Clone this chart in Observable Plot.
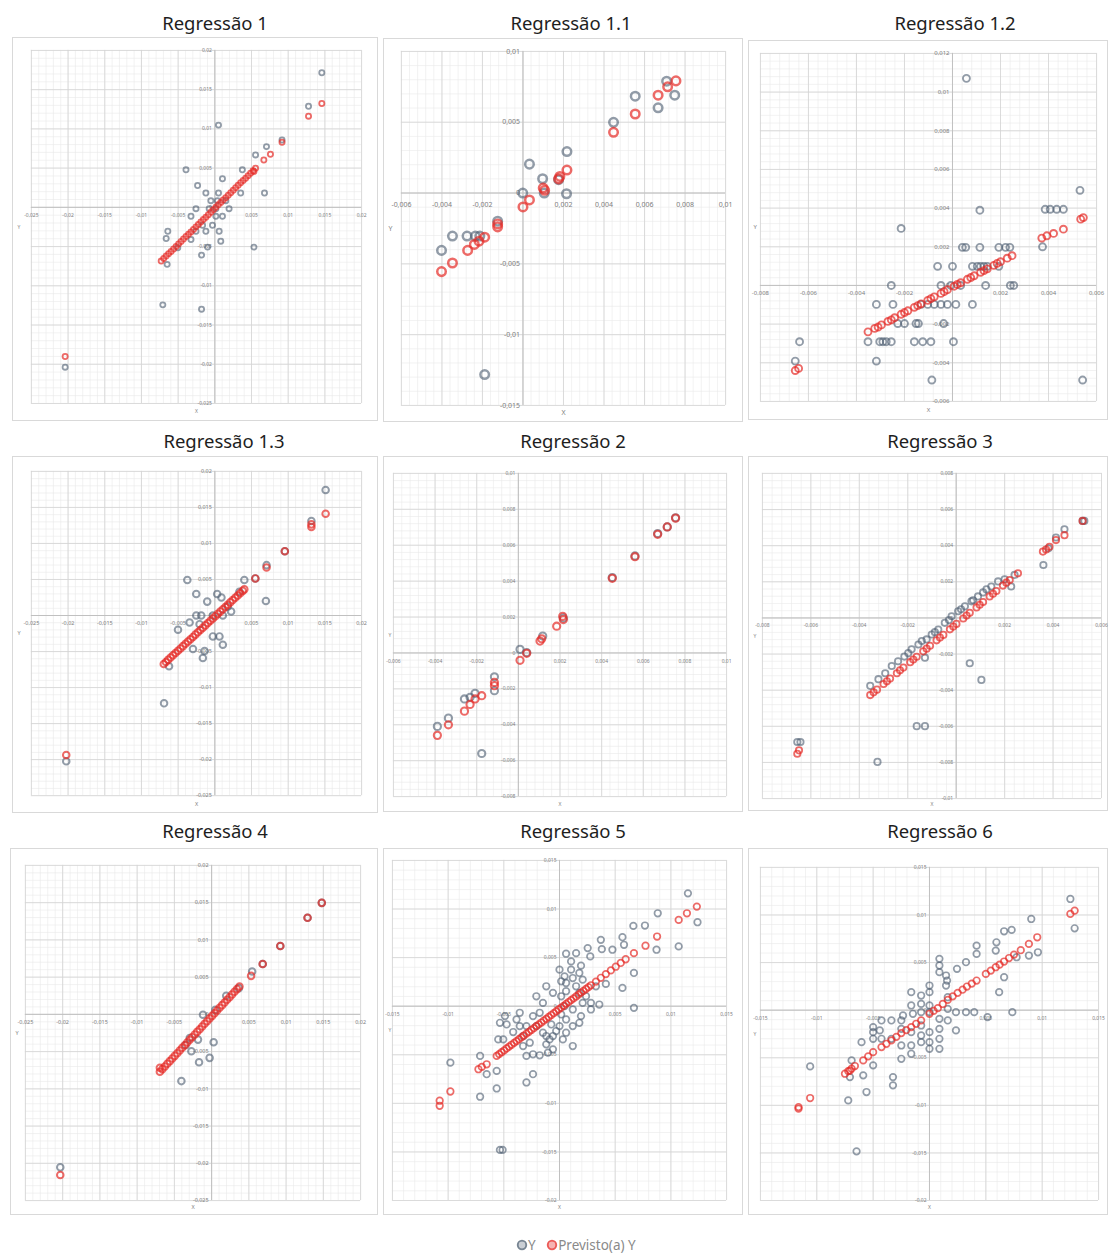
<!DOCTYPE html>
<html><head><meta charset="utf-8">
<script src="https://cdn.jsdelivr.net/npm/d3@7"></script>
<script src="https://cdn.jsdelivr.net/npm/@observablehq/plot@0.6"></script>
<style>
body{margin:0;background:#fff;font-family:"Noto Sans",sans-serif}
#root{position:relative;width:1110px;height:1256px;overflow:hidden}
.box{position:absolute;border:1px solid #d9d9d9;box-sizing:border-box;background:#fff}
.box svg{position:absolute;left:-1px;top:-1px;overflow:visible}
.title{position:absolute;transform:translate(-50%,-50%);font-size:18.5px;color:#1e1e1e;white-space:nowrap}
#legend{position:absolute;left:516px;top:1236px;font-size:13.5px;color:#8a8a8a;white-space:nowrap}
</style></head><body><div id="root"></div>
<script>
// ---------------- DATA ----------------
const titles = ["Regressão 1","Regressão 1.1","Regressão 1.2","Regressão 1.3","Regressão 2","Regressão 3","Regressão 4","Regressão 5","Regressão 6"];
const seriesNames = ["Y","Previsto(a) Y"];

const p1_xticks = [-0.025,-0.02,-0.015,-0.01,-0.005,0,0.005,0.01,0.015,0.02];
const p1_yticks = [-0.025,-0.02,-0.015,-0.01,-0.005,0,0.005,0.01,0.015,0.02];
const p1_obs = [[0.01458,0.01716],[0.01277,0.01289],[0.0005,0.01048],[0.00916,0.00858],[0.00704,0.00774],[0.00555,0.00668],[0.00375,0.00478],[-0.00393,0.00478],[-0.00235,0.00279],[0.00104,0.00364],[-0.00122,0.00182],[0.0005,0.00182],[0.00352,0.00182],[0.00677,0.00182],[-0.00054,0.00085],[0.00036,0.00085],[0.00149,0.00085],[-0.00257,-0.00017],[-0.00077,-0.00017],[0.00014,-0.00017],[0.00194,-0.00017],[-0.00325,-0.00114],[0.00014,-0.00114],[0.00104,-0.00114],[-0.00167,-0.00228],[-0.00032,-0.00228],[-0.00257,-0.00304],[-0.00122,-0.00304],[0.00059,-0.00304],[-0.00641,-0.00304],[-0.00663,-0.00397],[-0.00325,-0.0041],[0.00081,-0.00431],[-0.00099,-0.00507],[0.00533,-0.00507],[-0.00505,-0.00516],[-0.00181,-0.00609],[-0.0065,-0.00727],[-0.00709,-0.01243],[-0.00181,-0.01298],[-0.0204,-0.02037]];
const p1_pred = [[-0.00731,-0.00685],[-0.00697,-0.00653],[-0.00663,-0.00621],[-0.0063,-0.0059],[-0.00596,-0.00562],[-0.00562,-0.0053],[-0.00528,-0.00499],[-0.00494,-0.00467],[-0.0046,-0.00435],[-0.00427,-0.00404],[-0.00393,-0.00372],[-0.00359,-0.00342],[-0.00325,-0.00313],[-0.00291,-0.00281],[-0.00257,-0.00249],[-0.00224,-0.00218],[-0.0019,-0.00186],[-0.00156,-0.00156],[-0.00122,-0.00127],[-0.00088,-0.00095],[-0.00054,-0.00063],[-0.0002,-0.00032],[0.00014,0],[0.00048,0.00032],[0.00081,0.00063],[0.00115,0.00093],[0.00149,0.00123],[0.00183,0.00155],[0.00217,0.00186],[0.00251,0.00218],[0.00284,0.00249],[0.00318,0.00281],[0.00352,0.00313],[0.00386,0.00343],[0.0042,0.00372],[0.00454,0.00404],[0.00487,0.00435],[0.00521,0.00467],[0.00555,0.00499],[0.00533,0.00457],[0.00668,0.00604],[0.00758,0.00676],[0.00916,0.00829],[0.01277,0.01162],[0.01458,0.01323],[-0.0204,-0.01902]];

const p2_xticks = [-0.006,-0.004,-0.002,0,0.002,0.004,0.006,0.008,0.01];
const p2_yticks = [-0.015,-0.01,-0.005,0,0.005,0.01];
const p2_obs = [[0.00709,0.0079],[0.00749,0.00691],[0.00554,0.00684],[0.00667,0.00602],[0.00447,0.00499],[0.00217,0.00293],[0.00032,0.00204],[0.00097,0.00101],[0.00176,0.00094],[0.00105,0],[0.00215,-0.00005],[-0.00001,0],[-0.00125,-0.00199],[-0.00348,-0.00304],[-0.00276,-0.00304],[-0.00235,-0.00304],[-0.00213,-0.00304],[-0.00402,-0.00405],[-0.00189,-0.01282]];
const p2_pred = [[0.00755,0.00792],[0.00714,0.0075],[0.00667,0.00691],[0.00554,0.00558],[0.00447,0.00429],[0.00217,0.00162],[0.00182,0.00117],[0.00176,0.001],[0.001,0.00035],[0.00107,0.00019],[0.00032,-0.00049],[0,-0.00098],[-0.00125,-0.00218],[-0.00125,-0.00239],[-0.00189,-0.00312],[-0.00217,-0.0034],[-0.0024,-0.00363],[-0.00273,-0.00405],[-0.00348,-0.00494],[-0.00402,-0.00555]];

const p3_xticks = [-0.008,-0.006,-0.004,-0.002,0,0.002,0.004,0.006];
const p3_yticks = [-0.006,-0.004,-0.002,0,0.002,0.004,0.006,0.008,0.01,0.012];
const p3_obs = [[0.00058,0.01071],[0.00531,0.00492],[0.00114,0.00389],[0.00386,0.00394],[0.00407,0.00394],[0.00434,0.00394],[0.00462,0.00394],[-0.00214,0.00295],[0.00375,0.002],[0.00041,0.00197],[0.00055,0.00197],[0.00114,0.00197],[0.00193,0.00197],[0.00221,0.00197],[0.00239,0.00197],[-0.00062,0.00099],[0,0.00099],[0.00083,0.00099],[0.00103,0.00099],[0.00117,0.00099],[0.00131,0.00099],[0.00145,0.00099],[0.00193,0.00099],[-0.00255,0],[-0.00048,0],[-0.00007,0],[0.00034,0],[0.00138,0],[0.00241,0],[0.00255,0],[-0.00317,-0.00098],[-0.00248,-0.00098],[-0.00131,-0.00098],[-0.00103,-0.00098],[-0.00076,-0.00098],[-0.00048,-0.00098],[-0.00021,-0.00098],[0.00014,-0.00098],[0.00083,-0.00098],[-0.00228,-0.00197],[-0.002,-0.00197],[-0.00152,-0.00197],[-0.00142,-0.00197],[-0.00037,-0.00197],[-0.00637,-0.00291],[-0.00352,-0.00291],[-0.00303,-0.00291],[-0.0029,-0.00291],[-0.00276,-0.00291],[-0.00255,-0.00291],[-0.00159,-0.00291],[-0.00124,-0.00291],[-0.0009,-0.00291],[0.00004,-0.00291],[-0.00655,-0.00391],[-0.00317,-0.00391],[-0.00086,-0.00489],[0.00542,-0.00489]];
const p3_pred = [[-0.00352,-0.0024],[-0.00324,-0.00222],[-0.00296,-0.00204],[-0.00269,-0.00186],[-0.00241,-0.00167],[-0.00214,-0.00149],[-0.00186,-0.00131],[-0.00159,-0.00113],[-0.00131,-0.00095],[-0.00103,-0.00077],[-0.00076,-0.00059],[-0.00048,-0.00041],[-0.00021,-0.00022],[0.00007,-0.00004],[0.00034,0.00014],[0.00062,0.00032],[0.0009,0.0005],[0.00117,0.00068],[0.00145,0.00086],[0.00172,0.00104],[0.002,0.00123],[0.00228,0.00141],[0.00248,0.00154],[-0.0031,-0.00215],[-0.00255,-0.00178],[-0.002,-0.0014],[-0.00145,-0.00104],[-0.0009,-0.00068],[-0.00035,-0.00032],[0.0002,0.00005],[0.00076,0.00041],[0.00131,0.00077],[0.00186,0.00114],[0.00372,0.00245],[0.00393,0.00257],[0.00421,0.00269],[0.00462,0.00291],[0.00534,0.00343],[0.00545,0.00351],[-0.00655,-0.0044],[-0.00641,-0.00429]];

const p4_xticks = [-0.025,-0.02,-0.015,-0.01,-0.005,0,0.005,0.01,0.015,0.02];
const p4_yticks = [-0.025,-0.02,-0.015,-0.01,-0.005,0,0.005,0.01,0.015,0.02];
const p4_obs = [[0.0151,0.01743],[0.01316,0.01311],[0.00954,0.00892],[0.00705,0.00699],[0.00552,0.00515],[0.00402,0.00492],[-0.00375,0.00492],[-0.00253,0.00299],[0.00032,0.00299],[-0.00104,0.00193],[0.00696,0.00202],[-0.00253,0],[-0.00185,0],[-0.00027,0],[0.00109,0],[-0.00344,-0.00097],[-0.00502,-0.00198],[-0.00027,-0.0029],[0.00063,-0.0029],[0.00109,-0.00405],[-0.00298,-0.00465],[-0.0014,-0.00492],[-0.00163,-0.00589],[-0.00624,-0.00704],[-0.00692,-0.01219],[-0.02025,-0.02024],[0.00176,0.00124],[0.00222,0.00055],[0.00335,0.00331],[-0.00208,-0.0012],[0.0009,0.0025]];
const p4_pred = [[-0.00696,-0.00672],[-0.00666,-0.00645],[-0.00637,-0.00616],[-0.00603,-0.00584],[-0.0057,-0.00552],[-0.00536,-0.0052],[-0.00502,-0.00489],[-0.00468,-0.00457],[-0.00434,-0.00425],[-0.004,-0.00393],[-0.00366,-0.00361],[-0.00332,-0.00329],[-0.00298,-0.00297],[-0.00265,-0.00265],[-0.00231,-0.00233],[-0.00197,-0.00201],[-0.00163,-0.00169],[-0.00129,-0.00137],[-0.00095,-0.00105],[-0.00061,-0.00073],[-0.00027,-0.00041],[0.00007,-0.00009],[0.00041,0.00023],[0.00075,0.00054],[0.00109,0.00086],[0.00143,0.00118],[0.00176,0.0015],[0.0021,0.00182],[0.00244,0.00214],[0.00278,0.00246],[0.00312,0.00278],[0.00346,0.0031],[0.0038,0.00342],[0.00402,0.00363],[0.00552,0.00515],[0.00705,0.00667],[0.00954,0.00892],[0.01316,0.01265],[0.01316,0.01228],[0.0151,0.01412],[-0.02025,-0.01937]];

const p5_xticks = [-0.006,-0.004,-0.002,0,0.002,0.004,0.006,0.008,0.01];
const p5_yticks = [-0.008,-0.006,-0.004,-0.002,0,0.002,0.004,0.006,0.008,0.01];
const p5_obs = [[0.00755,0.00753],[0.00715,0.00702],[0.00669,0.00665],[0.0056,0.0054],[0.00451,0.0042],[0.00216,0.00195],[0.00117,0.00094],[0.0004,0.00002],[0.00008,0.0002],[-0.00115,-0.00133],[-0.00115,-0.0021],[-0.00208,-0.00225],[-0.00259,-0.00256],[-0.00336,-0.00363],[-0.00389,-0.00409],[-0.00176,-0.0056],[-0.00232,-0.00247]];
const p5_pred = [[0.00755,0.00751],[0.00715,0.00702],[0.00669,0.00661],[0.0056,0.00536],[0.00451,0.00416],[0.00216,0.00186],[0.00213,0.00204],[0.00184,0.00149],[0.00112,0.00079],[0.00104,0.00066],[0.0004,-0.00002],[0.00008,-0.00041],[-0.00115,-0.00164],[-0.00115,-0.00182],[-0.00176,-0.00238],[-0.00208,-0.00256],[-0.00232,-0.00287],[-0.00259,-0.00324],[-0.00336,-0.004],[-0.00389,-0.00459]];

const p6_xticks = [-0.008,-0.006,-0.004,-0.002,0,0.002,0.004,0.006];
const p6_yticks = [-0.01,-0.008,-0.006,-0.004,-0.002,0,0.002,0.004,0.006,0.008];
const p6_obs = [[-0.00355,-0.00376],[-0.00321,-0.00339],[-0.00293,-0.00306],[-0.00266,-0.00266],[-0.00214,-0.00214],[-0.00184,-0.00174],[-0.00156,-0.00147],[-0.00122,-0.00119],[-0.00101,-0.00092],[-0.00074,-0.00064],[-0.00047,-0.00027],[-0.00019,0.00009],[0.00008,0.00037],[0.00036,0.00064],[0.00063,0.00092],[0.0009,0.00119],[0.00111,0.00141],[0.00145,0.00174],[0.00173,0.00202],[0.002,0.00214],[0.00227,0.00174],[0.00241,0.00238],[-0.0024,-0.0024],[-0.00198,-0.00195],[-0.00142,-0.00128],[-0.00088,-0.00079],[-0.0003,-0.00012],[0.0002,0.00048],[0.0007,0.00098],[0.00125,0.00158],[-0.00129,-0.0022],[0.00056,-0.00251],[0.00104,-0.00343],[-0.00163,-0.00599],[-0.00129,-0.00599],[-0.00656,-0.00687],[-0.00643,-0.00687],[-0.00325,-0.00797],[0.0036,0.00293],[0.00381,0.00385],[0.00412,0.00445],[0.00447,0.00491],[0.00522,0.00537],[0.00529,0.00537]];
const p6_pred = [[-0.00355,-0.00427],[-0.00327,-0.00397],[-0.003,-0.00366],[-0.00273,-0.00336],[-0.00245,-0.00306],[-0.00218,-0.00275],[-0.0019,-0.00245],[-0.00163,-0.00215],[-0.00136,-0.00185],[-0.00108,-0.00154],[-0.00081,-0.00124],[-0.00053,-0.00094],[-0.00026,-0.00063],[0.00001,-0.00033],[0.00029,-0.00003],[0.00056,0.00028],[0.00084,0.00058],[0.00111,0.00088],[0.00138,0.00119],[0.00166,0.00149],[0.00193,0.00179],[0.00221,0.0021],[0.00255,0.00247],[-0.00341,-0.00412],[-0.00286,-0.00351],[-0.00232,-0.0029],[-0.00177,-0.0023],[-0.00122,-0.0017],[-0.00067,-0.00109],[-0.00012,-0.00048],[0.00043,0.00013],[0.00097,0.00073],[0.00152,0.00134],[0.00207,0.00195],[0.00358,0.00367],[0.00371,0.00379],[0.00385,0.00394],[0.00412,0.00431],[0.00447,0.00458],[0.00522,0.00537],[-0.00656,-0.00752],[-0.00649,-0.00733]];

const p7_xticks = [-0.025,-0.02,-0.015,-0.01,-0.005,0,0.005,0.01,0.015,0.02];
const p7_yticks = [-0.025,-0.02,-0.015,-0.01,-0.005,0,0.005,0.01,0.015,0.02];
const p7_obs = [[0.01479,0.01497],[0.01288,0.01297],[0.00922,0.00918],[0.00686,0.00677],[0.00544,0.00575],[0.00365,0.00352],[0.00196,0.0025],[-0.00116,-0.00004],[0.00027,-0.00374],[-0.00272,-0.00495],[-0.00027,-0.00584],[-0.00169,-0.00642],[-0.00406,-0.00896],[-0.00294,-0.00316],[-0.00183,-0.00339],[-0.02032,-0.02054],[0.0005,0.0006],[-0.0035,-0.0041]];
const p7_pred = [[-0.00695,-0.00771],[-0.00661,-0.00735],[-0.00628,-0.00699],[-0.00595,-0.00664],[-0.00561,-0.00628],[-0.00528,-0.00592],[-0.00495,-0.00557],[-0.00461,-0.00521],[-0.00428,-0.00485],[-0.00395,-0.00449],[-0.00361,-0.00414],[-0.00328,-0.00378],[-0.00294,-0.00342],[-0.00261,-0.00306],[-0.00227,-0.0027],[-0.00194,-0.00235],[-0.0016,-0.00199],[-0.00127,-0.00163],[-0.00094,-0.00127],[-0.0006,-0.00092],[-0.00027,-0.00056],[0.00007,-0.0002],[0.0004,0.00016],[0.00074,0.00052],[0.00107,0.00088],[0.00141,0.00124],[0.00174,0.0016],[0.00207,0.00196],[0.00241,0.00231],[0.00274,0.00267],[0.00307,0.00303],[0.00341,0.00339],[0.00374,0.00374],[0.0053,0.00517],[0.00686,0.00677],[0.00922,0.00918],[0.01288,0.01297],[0.01479,0.01497],[-0.02032,-0.02157],[-0.00695,-0.00717]];

const p8_xticks = [-0.015,-0.01,-0.005,0,0.005,0.01,0.015];
const p8_yticks = [-0.02,-0.015,-0.01,-0.005,0,0.005,0.01,0.015];
const p8_obs = [[0.01153,0.01161],[0.01239,0.00864],[0.0107,0.00615],[0.00882,0.00956],[0.00871,0.00581],[0.00767,0.0083],[0.00663,0.00826],[0.00565,0.0071],[0.00579,0.00632],[0.00475,0.00581],[0.00371,0.00683],[0.0038,0.00587],[0.00253,0.00598],[0.00276,0.00512],[0.00149,0.00546],[0.00059,0.0054],[0.00104,0.00461],[0.00193,0.00417],[0.00104,0.00376],[0.00015,0.00256],[0.00059,0.00239],[0.00119,0.0029],[0.00178,0.00342],[0.00208,0.00273],[0.00327,0.00205],[0.00416,0.00229],[0.00565,0.00188],[0.00668,0.00342],[0.00668,-0.00017],[0.00357,0.00017],[0.00282,0.00034],[0.00282,-0.00034],[0.00208,0.00034],[0.00193,-0.00102],[0.00178,-0.00171],[0.00119,-0.00205],[0.00059,-0.00137],[0.00015,-0.00085],[0,-0.00205],[-0.0003,-0.00256],[-0.00059,-0.00307],[-0.00089,-0.00342],[-0.00119,-0.00393],[-0.00059,-0.00444],[-0.00104,-0.00478],[-0.00178,-0.00505],[-0.00238,-0.00495],[-0.00297,-0.00512],[-0.00267,-0.00376],[-0.00327,-0.00307],[-0.00357,-0.00205],[-0.00386,-0.00137],[-0.00475,-0.00188],[-0.00416,-0.00266],[-0.00505,-0.00342],[-0.0055,-0.00342],[-0.00535,-0.00171],[-0.0049,-0.00102],[-0.00297,-0.00205],[-0.00208,0.00102],[-0.00149,0.00034],[-0.00119,0.00205],[-0.00059,0.00137],[0.00015,0.00102],[0.00045,0],[0.00119,-0.00034],[0.00119,-0.0041],[0.0003,-0.00342],[0.00059,-0.00273],[-0.00327,-0.0041],[-0.00564,-0.00666],[-0.00654,-0.007],[-0.00713,-0.00512],[-0.0098,-0.00581],[-0.00713,-0.00932],[-0.00564,-0.00847],[-0.00297,-0.00785],[-0.00238,-0.007],[0.00178,0.00137],[0.00238,0.00102],[-0.00535,-0.01479],[-0.00511,-0.01479],[-0.00178,-0.00068],[-0.00238,-0.00102],[-0.00208,-0.00205],[-0.00149,-0.00273],[-0.00357,-0.00068],[0.00149,0.00205],[0.00059,0.00154],[0,0.00376],[0.00045,0.00307],[-0.00074,-0.00188],[-0.00119,-0.00307]];
const p8_pred = [[-0.00564,-0.00512],[-0.00542,-0.00493],[-0.0052,-0.00474],[-0.00497,-0.00455],[-0.00475,-0.00435],[-0.00453,-0.00416],[-0.00431,-0.00397],[-0.00408,-0.00378],[-0.00386,-0.00359],[-0.00364,-0.0034],[-0.00342,-0.00321],[-0.0032,-0.00302],[-0.00297,-0.00283],[-0.00275,-0.00264],[-0.00253,-0.00245],[-0.0023,-0.00226],[-0.00208,-0.00206],[-0.00186,-0.00187],[-0.00163,-0.00168],[-0.00141,-0.00149],[-0.00119,-0.0013],[-0.00097,-0.00111],[-0.00074,-0.00091],[-0.00052,-0.00072],[-0.0003,-0.00053],[-0.00008,-0.00034],[0.00015,-0.00015],[0.00037,0.00004],[0.00059,0.00024],[0.00082,0.00043],[0.00104,0.00062],[0.00126,0.00081],[0.00149,0.001],[0.00171,0.00119],[0.00193,0.00139],[0.00215,0.00158],[0.00238,0.00177],[0.0026,0.00196],[0.00282,0.00215],[0.00327,0.00253],[0.00371,0.00292],[0.00416,0.0033],[0.00461,0.00368],[0.00505,0.00406],[0.0055,0.00445],[0.00594,0.00483],[0.00668,0.00546],[0.00772,0.00622],[0.00876,0.00717],[0.0107,0.00888],[0.01144,0.00956],[0.01233,0.01025],[-0.0098,-0.00878],[-0.01076,-0.00973],[-0.01076,-0.01025],[-0.00728,-0.00649],[-0.00698,-0.00625],[-0.00654,-0.00598]];

const p9_xticks = [-0.015,-0.01,-0.005,0,0.005,0.01,0.015];
const p9_yticks = [-0.02,-0.015,-0.01,-0.005,0,0.005,0.01,0.015];
const p9_obs = [[0.0125,0.01168],[0.01288,0.0086],[0.00903,0.00958],[0.00962,0.00608],[0.00882,0.00574],[0.00729,0.00843],[0.00662,0.00829],[0.00594,0.00713],[0.00588,0.00626],[0.00418,0.00678],[0.00418,0.00591],[0.00324,0.00504],[0.00244,0.00434],[0.00088,0.00539],[0.00088,0.00469],[0.00147,0.00364],[0.00156,0.00311],[0.00147,0.00259],[0,0.00259],[0,0.00189],[-0.00162,0.00189],[-0.00074,0.00154],[0,0.00049],[0,-0.00021],[-0.00074,-0.00021],[-0.00147,-0.00038],[-0.00235,-0.00056],[-0.0025,-0.00108],[-0.00338,-0.00108],[-0.00426,-0.00108],[-0.005,-0.00178],[-0.005,-0.00231],[-0.005,-0.00301],[-0.00426,-0.00301],[-0.00338,-0.00301],[-0.0025,-0.00371],[-0.0025,-0.00511],[-0.00162,-0.00371],[-0.00162,-0.00458],[-0.00074,-0.00161],[-0.00074,-0.00266],[-0.00074,-0.00336],[0,-0.00231],[0,-0.00336],[0,-0.00406],[0.00088,-0.00091],[0.00088,-0.00196],[0.00088,-0.00301],[0.00088,-0.00406],[0.00162,0.00014],[0.00162,-0.00108],[0.00235,-0.00213],[0.00324,-0.00021],[0.00397,-0.00021],[0.00515,-0.00073],[0.00618,0.00189],[0.00662,0.00346],[0.00735,-0.00021],[0.00773,0.00556],[-0.00603,-0.00336],[-0.00691,-0.00528],[-0.00706,-0.00703],[-0.00588,-0.00685],[-0.00559,-0.0086],[-0.00721,-0.00948],[-0.005,-0.0058],[-0.00324,-0.00703],[-0.00324,-0.0079],[-0.01059,-0.00591],[-0.00647,-0.01483],[-0.00441,-0.00213],[-0.0025,-0.00196],[-0.00162,-0.00231],[-0.00162,0.00049],[-0.00074,0.00066],[0.00088,0.00399],[0.00162,0.00136],[0.00235,-0.00021]];
const p9_pred = [[-0.0075,-0.00668],[-0.00721,-0.0064],[-0.00691,-0.00615],[-0.00662,-0.00587],[-0.00588,-0.00528],[-0.005,-0.00441],[-0.00426,-0.00388],[-0.00338,-0.00318],[-0.0025,-0.00241],[-0.00162,-0.00178],[-0.00074,-0.00108],[0,-0.00038],[0.00074,0.00021],[0.00162,0.00108],[0.0025,0.00182],[0.00332,0.00248],[0.00418,0.00311],[0.005,0.00381],[0.00588,0.00451],[0.00662,0.00511],[0.0075,0.00584],[0.00882,0.00696],[0.00956,0.00766],[0.0125,0.01011],[0.01288,0.01045],[-0.01059,-0.00923],[-0.01162,-0.01018],[-0.01162,-0.01035],[-0.00544,-0.00485],[-0.00206,-0.0021],[0.00118,0.00065],[0.00544,0.00416],[0.0081,0.0063],[-0.00706,-0.00635],[-0.00382,-0.00353],[-0.00294,-0.0028],[-0.00118,-0.00143],[0.00037,-0.00008],[0.00206,0.00145],[0.00294,0.00215],[0.00375,0.00279],[0.00622,0.00478],[0.00706,0.00548]];

// ---------------- LAYOUT (style only) ----------------
const panels = [
  {obs:p1_obs,pred:p1_pred,xt:p1_xticks,yt:p1_yticks,box:[12,37,378,421],area:[31,50,363,405],r:2.6,sw:1.8,fs:5},
  {obs:p2_obs,pred:p2_pred,xt:p2_xticks,yt:p2_yticks,box:[383,38,743,422],area:[401,51,727,407],r:4.3,sw:2.5,fs:7,dy:12},
  {obs:p3_obs,pred:p3_pred,xt:p3_xticks,yt:p3_yticks,box:[748,40,1108,420],area:[760,53,1098,403],r:3.5,sw:1.9,fs:6},
  {obs:p4_obs,pred:p4_pred,xt:p4_xticks,yt:p4_yticks,box:[12,456,378,813],area:[31,471,363,797],r:3.3,sw:2,fs:5.5},
  {obs:p5_obs,pred:p5_pred,xt:p5_xticks,yt:p5_yticks,box:[383,456,743,812],area:[393,473,728,798],r:3.6,sw:2.1,fs:5},
  {obs:p6_obs,pred:p6_pred,xt:p6_xticks,yt:p6_yticks,box:[748,456,1108,811],area:[762,473,1103,800],r:3.2,sw:1.8,fs:5},
  {obs:p7_obs,pred:p7_pred,xt:p7_xticks,yt:p7_yticks,box:[10,848,378,1215],area:[25,865,362,1202],r:3.3,sw:2,fs:5.5},
  {obs:p8_obs,pred:p8_pred,xt:p8_xticks,yt:p8_yticks,box:[383,848,743,1215],area:[392,860,728,1202],r:3.3,sw:1.7,fs:5},
  {obs:p9_obs,pred:p9_pred,xt:p9_xticks,yt:p9_yticks,box:[748,848,1108,1215],area:[760,867,1100,1202],r:3.3,sw:1.7,fs:5}
];
const titlePos = [[215,22],[571,22],[955,22],[224,440],[573,440],[940,440],[215,830],[573,830],[940,830]];

const OBS_COLOR = "#4f6072", PRED_COLOR = "#e62b27";
const fmt = v => String(+v.toFixed(4)).replace(".", ",");
const root = document.getElementById("root");

panels.forEach((p, i) => {
  const [bl, bt, br, bb] = p.box, [al, at, ar, ab] = p.area;
  const xd = [p.xt[0], p.xt[p.xt.length-1]], yd = [p.yt[0], p.yt[p.yt.length-1]];
  const xs = p.xt[1]-p.xt[0], ys = p.yt[1]-p.yt[0];
  const minorX = d3.range(0, Math.round((xd[1]-xd[0])/xs*5)+1).map(k => xd[0] + k*xs/5);
  const minorY = d3.range(0, Math.round((yd[1]-yd[0])/ys*5)+1).map(k => yd[0] + k*ys/5);
  const ml = al-bl, mt = at-bt, mr = br-ar, mb = bb-ab;
  const chart = Plot.plot({
    width: br-bl, height: bb-bt,
    marginLeft: ml, marginTop: mt, marginRight: mr, marginBottom: mb,
    x: {domain: xd, axis: null}, y: {domain: yd, axis: null},
    style: {background: "transparent", fontFamily: "Noto Sans, sans-serif"},
    marks: [
      Plot.ruleX(minorX, {stroke: "#e9e9e9", strokeWidth: 0.6}),
      Plot.ruleY(minorY, {stroke: "#e9e9e9", strokeWidth: 0.6}),
      Plot.ruleX(p.xt, {stroke: "#d4d4d4", strokeWidth: 0.8}),
      Plot.ruleY(p.yt, {stroke: "#d4d4d4", strokeWidth: 0.8}),
      Plot.ruleX([0], {stroke: "#bdbdbd", strokeWidth: 0.9}),
      Plot.ruleY([0], {stroke: "#bdbdbd", strokeWidth: 0.9}),
      Plot.text(p.xt.filter(v => v !== 0), {x: d => d, y: 0, dy: p.dy || 8, text: d => fmt(d), fontSize: p.fs, fill: "#808080"}),
      Plot.text(p.yt, {x: 0, y: d => d, dx: -3, textAnchor: "end", text: d => fmt(d), fontSize: p.fs, fill: "#808080"}),
      Plot.text(["Y"], {frameAnchor: "left", dx: -(ml-5), fontSize: p.fs, fill: "#808080"}),
      Plot.text(["X"], {frameAnchor: "bottom", dy: Math.max(6, mb/2+2), fontSize: p.fs, fill: "#808080"}),
      Plot.dot(p.obs, {x: d => d[0], y: d => d[1], r: p.r, stroke: OBS_COLOR, strokeWidth: p.sw, strokeOpacity: 0.62, fill: "none"}),
      Plot.dot(p.pred, {x: d => d[0], y: d => d[1], r: p.r, stroke: PRED_COLOR, strokeWidth: p.sw, strokeOpacity: 0.7, fill: "none"})
    ]
  });
  const div = document.createElement("div");
  div.className = "box";
  Object.assign(div.style, {left: bl+"px", top: bt+"px", width: (br-bl)+"px", height: (bb-bt)+"px"});
  div.appendChild(chart);
  root.appendChild(div);
  const t = document.createElement("div");
  t.className = "title";
  t.textContent = titles[i];
  t.style.left = titlePos[i][0]+"px"; t.style.top = titlePos[i][1]+"px";
  root.appendChild(t);
});

// legend
const lg = document.createElement("div");
lg.id = "legend";
const ring = (c, f) => `<svg width="12" height="12" style="vertical-align:-1px"><circle cx="6" cy="6" r="4.3" fill="${f}" stroke="${c}" stroke-width="1.8" stroke-opacity="0.75"/></svg>`;
lg.innerHTML = `${ring(OBS_COLOR, "#c9ced4")}${seriesNames[0]}&nbsp;&nbsp;&nbsp;${ring(PRED_COLOR, "#f6b3b1")}${seriesNames[1]}`;
root.appendChild(lg);
</script></body></html>
